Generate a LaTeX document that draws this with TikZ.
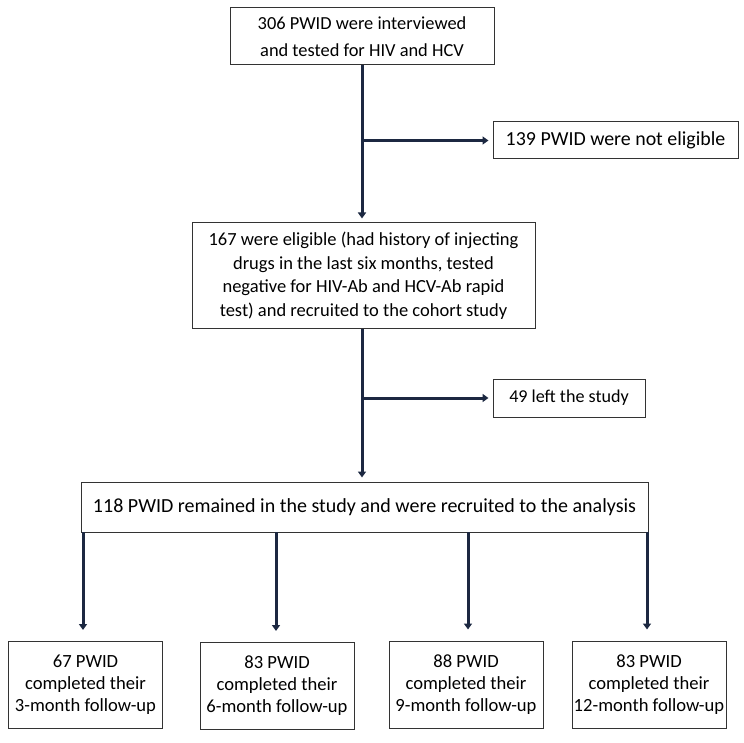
\documentclass[tikz,border=0pt]{standalone}
\usepackage{fontspec}
\setmainfont{Carlito}
\usetikzlibrary{arrows.meta}
\definecolor{linecol}{HTML}{1C2841}
\definecolor{boxcol}{HTML}{333333}
\begin{document}
\begin{tikzpicture}[x=1pt,y=-1pt,
  box/.style={draw=boxcol,line width=1pt,rectangle,inner sep=0pt,align=center,
    font=\fontsize{18.4}{27}\selectfont},
  arr/.style={draw=linecol,line width=3pt,-{Triangle[length=6pt,width=8pt]}},
  ln/.style={draw=linecol,line width=3pt}]
\useasboundingbox (0,0) rectangle (744,743);
\node[box,minimum width=264pt,minimum height=57pt] (top) at (362,36.5)
  {306 PWID were interviewed\\and tested for HIV and HCV};
\node[box,minimum width=245pt,minimum height=37pt,
  font=\fontsize{19.9}{24}\selectfont] (ne) at (615.5,140.5)
  {139 PWID were not eligible};
\node[box,minimum width=343pt,minimum height=105pt,
  font=\fontsize{18.5}{23.5}\selectfont] (elig) at (363.5,275.5)
  {167 were eligible (had history of injecting\\drugs in the last six months, tested\\negative for HIV-Ab and HCV-Ab rapid\\test) and recruited to the cohort study};
\node[box,minimum width=152pt,minimum height=38pt,
  font=\fontsize{18.1}{22}\selectfont] (left) at (569,398)
  {49 left the study};
\node[box,minimum width=567pt,minimum height=50pt,
  font=\fontsize{20}{24}\selectfont] (rem) at (364.5,507)
  {118 PWID remained in the study and were recruited to the analysis};
\tikzset{fu/.style={box,minimum width=154pt,minimum height=87pt,
  font=\fontsize{18.6}{22}\selectfont}}
\node[fu] (a) at (85.5,685) {67 PWID\\completed their\\3-month follow-up};
\node[fu] (b) at (277,686) {83 PWID\\completed their\\6-month follow-up};
\node[fu] (c) at (466,684.5) {88 PWID\\completed their\\9-month follow-up};
\node[fu] (d) at (649,684.5) {83 PWID\\completed their\\12-month follow-up};
\coordinate (j1) at (top.south |- ne.west);
\coordinate (j2) at (top.south |- left.west);
\draw[arr,shorten >=4pt] (top.south) -- (top.south |- elig.north);
\draw[arr,shorten >=4pt] (j1) -- (ne.west);
\draw[arr,shorten >=4pt] (top.south |- elig.south) -- (top.south |- rem.north);
\draw[arr,shorten >=4pt] (j2) -- (left.west);
\coordinate (sa) at (83,532);
\coordinate (sb) at (276,532);
\coordinate (sc) at (468,532);
\coordinate (sd) at (647,532);
\draw[arr,shorten >=11pt] (sa) -- (sa |- a.north);
\draw[arr,shorten >=11pt] (sb) -- (sb |- b.north);
\draw[arr,shorten >=11pt] (sc) -- (sc |- c.north);
\draw[arr,shorten >=11pt] (sd) -- (sd |- d.north);
\end{tikzpicture}
\end{document}
